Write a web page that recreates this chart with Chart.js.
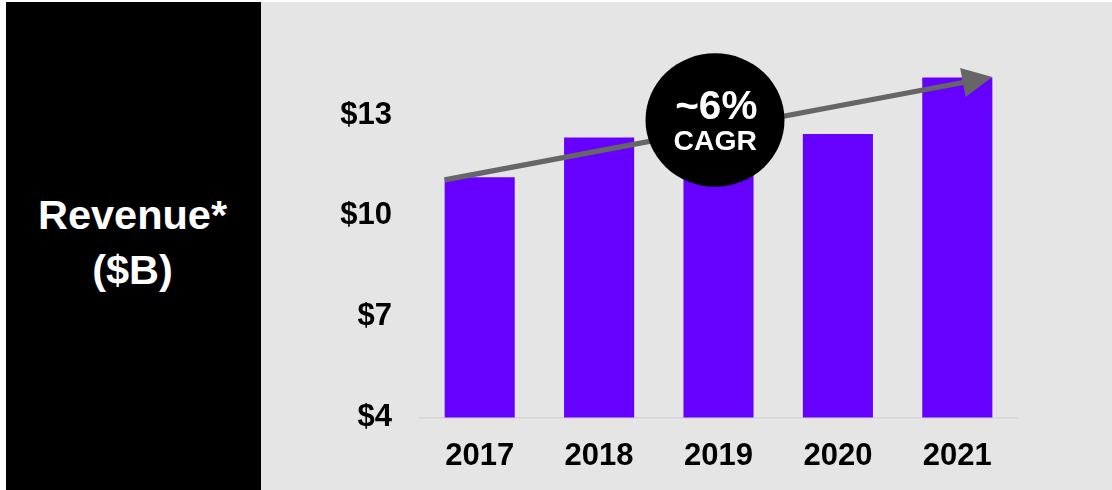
<!DOCTYPE html>
<html>
<head>
<meta charset="utf-8">
<script src="https://cdn.jsdelivr.net/npm/chart.js@4/dist/chart.umd.min.js"></script>
<style>
  html, body { margin: 0; padding: 0; background: #fff; width: 1112px; height: 490px; overflow: hidden;
               font-family: "Liberation Sans", Arial, sans-serif; }
  #plotBg { position: absolute; left: 261px; top: 2px; width: 851px; height: 488px; background: #e5e5e5; }
  #panel  { position: absolute; left: 6px; top: 2px; width: 255px; height: 488px; background: #000; }
  .lbl { position: absolute; left: -1px; width: 255px; text-align: center; color: #fff; font-weight: bold;
         font-size: 41.5px; line-height: 40px; white-space: nowrap; }
  #wrap { position: absolute; left: 0; top: 0; width: 1112px; height: 490px; }
</style>
</head>
<body>
<div id="plotBg"></div>
<div id="panel">
  <div class="lbl" style="top:193px">Revenue*</div>
  <div class="lbl" style="top:248px">($B)</div>
</div>
<div id="wrap"><canvas id="c" width="1112" height="490"></canvas></div>
<script>
// Annual revenue, $B
const years   = ['2017', '2018', '2019', '2020', '2021'];
const revenue = [11.15, 12.33, 11.9, 12.44, 14.12];
const yTicks  = [4, 7, 10, 13];
const cagrLines = ['~6%', 'CAGR'];

const FONT = '"Liberation Sans", Arial, sans-serif';

// Growth arrow across the bar tops plus the CAGR badge on top of it
const cagrArrow = {
  id: 'cagrArrow',
  afterDatasetsDraw(chart) {
    const ctx = chart.ctx;
    const bars = chart.getDatasetMeta(0).data;
    const first = bars[0], last = bars[bars.length - 1];
    const x0 = first.x - first.width / 2, y0 = first.y + 2.7;
    const x1 = last.x + last.width / 2,  y1 = last.y - 0.5;
    const dx = x1 - x0, dy = y1 - y0, len = Math.hypot(dx, dy);
    const ux = dx / len, uy = dy / len;
    const headLen = 30, headHalf = 14.75;
    const bx = x1 - ux * headLen, by = y1 - uy * headLen;

    ctx.save();
    ctx.strokeStyle = '#666666';
    ctx.fillStyle = '#666666';
    ctx.lineWidth = 5.3;
    ctx.lineCap = 'butt';
    ctx.beginPath();
    ctx.moveTo(x0, y0);
    ctx.lineTo(bx + ux * 1.5, by + uy * 1.5);
    ctx.stroke();
    ctx.beginPath();
    ctx.moveTo(x1, y1);
    ctx.lineTo(bx - uy * headHalf, by + ux * headHalf);
    ctx.lineTo(bx + uy * headHalf, by - ux * headHalf);
    ctx.closePath();
    ctx.fill();

    // badge centred near the 2019 bar
    const cx = chart.scales.x.getPixelForValue(2) - 3.5;
    const cy = 120;
    ctx.fillStyle = '#000';
    ctx.beginPath();
    ctx.ellipse(cx, cy, 69.5, 66.7, 0, 0, Math.PI * 2);
    ctx.fill();

    ctx.fillStyle = '#fff';
    ctx.textAlign = 'center';
    ctx.textBaseline = 'alphabetic';
    ctx.font = 'bold 40.5px ' + FONT;
    ctx.fillText(cagrLines[0], cx + 1.3, 119.3);
    ctx.font = 'bold 28.3px ' + FONT;
    ctx.fillText(cagrLines[1], cx + 0.2, 149.7);
    ctx.restore();
  }
};

new Chart(document.getElementById('c'), {
  type: 'bar',
  data: {
    labels: years,
    datasets: [{
      data: revenue,
      backgroundColor: '#6600ff',
      borderWidth: 0,
      barPercentage: 0.587,
      categoryPercentage: 1
    }]
  },
  options: {
    responsive: false,
    devicePixelRatio: 1,
    animation: false,
    layout: { padding: { left: 300, right: 95, top: 14.3, bottom: 22.5 } },
    plugins: { legend: { display: false }, tooltip: { enabled: false } },
    scales: {
      x: {
        grid: { display: false, drawTicks: false },
        border: { display: true, color: '#d6d6d6', width: 1.5 },
        ticks: { color: '#000', padding: 20, font: { family: FONT, size: 31, weight: 'bold' } },
        afterFit(s) { s.height = 50; }
      },
      y: {
        min: 4,
        max: 16,
        grid: { display: false, drawTicks: true, tickLength: 28 },
        border: { display: false },
        afterBuildTicks(s) { s.ticks = yTicks.map(v => ({ value: v })); },
        ticks: {
          color: '#000', padding: 0,
          font: { family: FONT, size: 31, weight: 'bold', lineHeight: 0.8 },
          callback: v => '$' + v
        },
        afterFit(s) { s.width = 120; }
      }
    }
  },
  plugins: [cagrArrow]
});
</script>
</body>
</html>
